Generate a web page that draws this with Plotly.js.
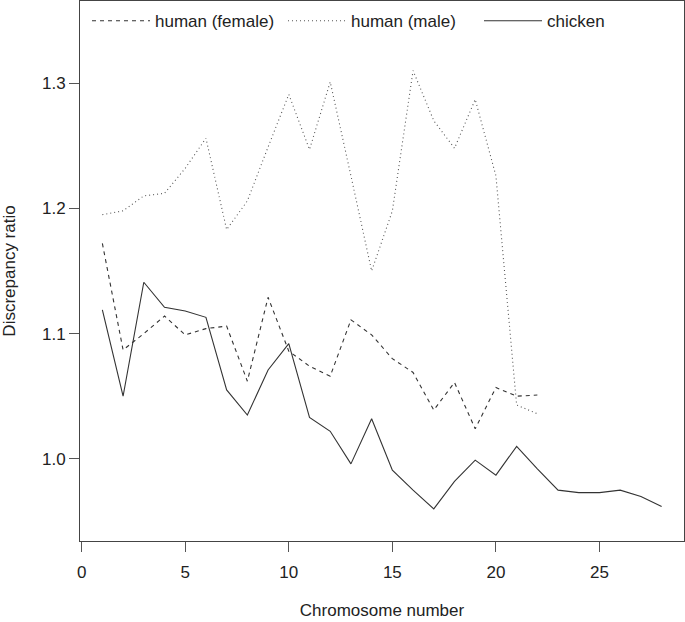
<!DOCTYPE html>
<html>
<head>
<meta charset="utf-8">
<script src="https://cdn.plot.ly/plotly-3.0.1.min.js"></script>
<style>html,body{margin:0;padding:0;background:#fff;}#chart{width:685px;height:622px;}</style>
</head>
<body>
<div id="chart"></div>
<script>
const chromHuman = [1,2,3,4,5,6,7,8,9,10,11,12,13,14,15,16,17,18,19,20,21,22];
const chromChicken = [1,2,3,4,5,6,7,8,9,10,11,12,13,14,15,16,17,18,19,20,21,22,23,24,25,26,27,28];
const humanFemale = [1.172,1.087,1.100,1.114,1.099,1.104,1.106,1.062,1.129,1.086,1.074,1.066,1.111,1.099,1.080,1.069,1.039,1.061,1.024,1.057,1.050,1.051];
const humanMale = [1.195,1.198,1.210,1.212,1.232,1.256,1.183,1.206,1.249,1.291,1.247,1.301,1.226,1.150,1.198,1.310,1.270,1.248,1.287,1.226,1.043,1.036];
const chicken = [1.119,1.050,1.141,1.121,1.118,1.113,1.055,1.035,1.071,1.092,1.033,1.022,0.996,1.032,0.991,0.975,0.960,0.982,0.999,0.987,1.010,0.992,0.975,0.973,0.973,0.975,0.970,0.962];
const seriesNames = ["human (female)", "human (male)", "chicken"];
const xTicks = [0,5,10,15,20,25];
const yTicks = [1.0,1.1,1.2,1.3];
const yTickText = ["1.0","1.1","1.2","1.3"];

const FONT = "Liberation Sans, Arial, Helvetica, sans-serif";
const FS = 17;
const traces = [
  {x: chromHuman, y: humanFemale, name: seriesNames[0], type: "scatter", mode: "lines",
   line: {color: "#333333", width: 1.1, dash: "4px,4px"}},
  {x: chromHuman, y: humanMale, name: seriesNames[1], type: "scatter", mode: "lines",
   line: {color: "#555555", width: 1.1, dash: "1px,3px"}},
  {x: chromChicken, y: chicken, name: seriesNames[2], type: "scatter", mode: "lines",
   line: {color: "#333333", width: 1.1}}
];
const axisCommon = {
  showgrid: false, zeroline: false, showline: true, mirror: true,
  linecolor: "#444", linewidth: 1, ticks: "outside", ticklen: 10, tickwidth: 1, tickcolor: "#555",
  tickfont: {family: FONT, size: FS, color: "#222"}
};
const layout = {
  width: 685, height: 622,
  margin: {l: 80, r: 1, t: 1, b: 81},
  paper_bgcolor: "#fff", plot_bgcolor: "#fff",
  font: {family: FONT, size: FS, color: "#222"},
  showlegend: true,
  legend: {orientation: "h", x: 7/604, y: 0.996,
    xanchor: "left", yanchor: "top",
    bgcolor: "rgba(0,0,0,0)", borderwidth: 0, itemwidth: 58,
    entrywidth: 123, entrywidthmode: "pixels",
    font: {family: FONT, size: FS, color: "#222"}, itemclick: false},
  xaxis: Object.assign({}, axisCommon, {range: [-0.08, 29.08], tickvals: xTicks, ticklabelstandoff: 6,
    title: {text: "Chromosome number", font: {family: FONT, size: FS, color: "#222"}, standoff: 22}}),
  yaxis: Object.assign({}, axisCommon, {range: [0.9344, 1.3656], tickvals: yTicks, ticktext: yTickText,
    title: {text: "Discrepancy ratio", font: {family: FONT, size: FS, color: "#222"}, standoff: 22}})
};
Plotly.newPlot("chart", traces, layout, {staticPlot: true, displayModeBar: false});
</script>
</body>
</html>
